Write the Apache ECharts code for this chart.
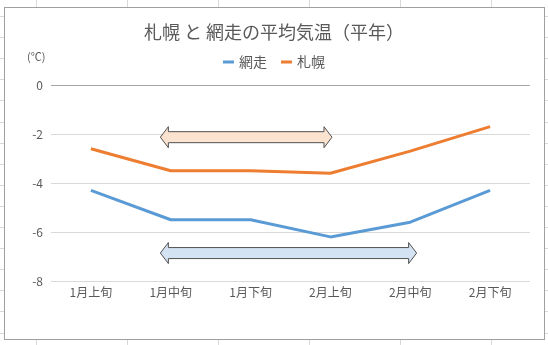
<!DOCTYPE html>
<html><head><meta charset="utf-8">
<script src="https://cdn.jsdelivr.net/npm/echarts@6/dist/echarts.min.js"></script>
<style>
html,body{margin:0;padding:0;}
body{width:548px;height:345px;position:relative;overflow:hidden;background:#fff;
background-image:
 repeating-linear-gradient(to right, transparent 0, transparent 36px, #d9d9d9 36px, #d9d9d9 37px, transparent 37px, transparent 90.9px),
 repeating-linear-gradient(to bottom, transparent 0, transparent 16px, #d9d9d9 16px, #d9d9d9 17px, transparent 17px, transparent 21.1px);}
#frame{position:absolute;left:4px;top:7px;width:539px;height:331px;background:#fff;border:1px solid #a0a0a0;}
#chart{position:absolute;left:0;top:0;width:548px;height:345px;}
</style></head>
<body>
<div id="frame"></div>
<div id="chart"></div>
<script>
const categories = ['1月上旬','1月中旬','1月下旬','2月上旬','2月中旬','2月下旬'];
const abashiri = [-4.3, -5.5, -5.5, -6.2, -5.6, -4.3];
const sapporo = [-2.6, -3.5, -3.5, -3.6, -2.7, -1.7];
const seriesNames = ['網走', '札幌'];
const titleText = '札幌 と 網走の平均気温（平年）';
const unitText = '(℃)';
// arrows: [start category position, end category position, y value]
const sapporoArrow = [0.87, 3.02, -2.13];
const abashiriArrow = [0.87, 4.08, -6.86];

const FONT = '"Noto Sans CJK JP", "Noto Sans", sans-serif';
const chart = echarts.init(document.getElementById('chart'), null, {renderer:'canvas'});
const option = {
  backgroundColor: 'transparent',
  animation: false,
  textStyle: {fontFamily: FONT},
  title: {
    text: titleText, left: 'center', top: 18,
    textStyle: {fontSize: 18, fontWeight: 'normal', color: '#595959', fontFamily: FONT}
  },
  legend: {
    data: seriesNames, top: 50, left: 'center',
    icon: 'rect', itemWidth: 11, itemHeight: 3, itemGap: 14,
    textStyle: {fontSize: 14, color: '#595959', fontFamily: FONT}
  },
  grid: {left: 51, right: 18, top: 85, bottom: 64, containLabel: false},
  xAxis: {
    type: 'category', data: categories, boundaryGap: true,
    axisLine: {show: false, onZero: false},
    axisTick: {show: false},
    axisLabel: {fontSize: 12, color: '#595959', margin: 5, fontFamily: FONT}
  },
  yAxis: {
    type: 'value', min: -8, max: 0, interval: 2,
    axisLine: {show: false}, axisTick: {show: false},
    axisLabel: {fontSize: 12, color: '#595959', margin: 8, fontFamily: FONT},
    splitLine: {show: true, lineStyle: {width: 1, color: ['#d9d9d9','#d9d9d9','#d9d9d9','#d9d9d9','#a6a6a6']}}
  },
  series: [
    {name: seriesNames[0], type: 'line', data: abashiri, symbol: 'none',
     lineStyle: {width: 3, color: '#5B9BD5'}, itemStyle: {color: '#5B9BD5'}},
    {name: seriesNames[1], type: 'line', data: sapporo, symbol: 'none',
     lineStyle: {width: 3, color: '#ED7D31'}, itemStyle: {color: '#ED7D31'}}
  ]
};
chart.setOption(option);

function catX(pos) {
  const x0 = chart.convertToPixel({xAxisIndex: 0}, 0);
  const x1 = chart.convertToPixel({xAxisIndex: 0}, 1);
  return x0 + (x1 - x0) * pos;
}
function arrowShape(a) {
  const xa = catX(a[0]), xb = catX(a[1]);
  const cy = chart.convertToPixel({yAxisIndex: 0}, a[2]);
  const h = 8, H = 10.5, b = 5.5;
  return [[xa, cy], [xa + h, cy - H], [xa + h, cy - b], [xb - h, cy - b], [xb - h, cy - H], [xb, cy],
          [xb - h, cy + H], [xb - h, cy + b], [xa + h, cy + b], [xa + h, cy + H]];
}
chart.setOption({
  graphic: [
    {type: 'text', left: 27, top: 51, style: {text: unitText, fontSize: 11, fill: '#595959', fontFamily: FONT}},
    {type: 'polygon', shape: {points: arrowShape(sapporoArrow)}, z: 10,
     style: {fill: '#FBE3CF', stroke: '#505050', lineWidth: 1}},
    {type: 'polygon', shape: {points: arrowShape(abashiriArrow)}, z: 10,
     style: {fill: '#D3E3F3', stroke: '#505050', lineWidth: 1}}
  ]
});
</script>
</body></html>
